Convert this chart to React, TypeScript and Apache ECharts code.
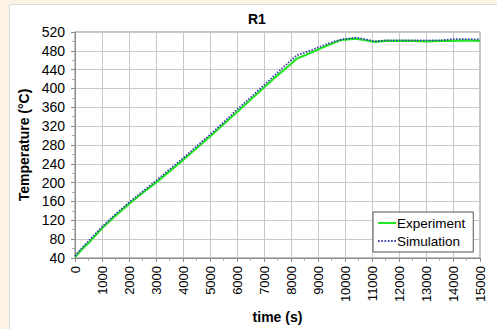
import React, { useEffect, useRef } from "react";
import * as echarts from "echarts";

const times = [0, 250, 500, 1000, 1500, 2000, 2500, 3000, 3500, 4000, 4500, 5000, 5500, 6000, 6500, 7000, 7500, 8000, 8200, 8500, 9000, 9500, 9800, 10000, 10400, 10800, 11100, 11500, 12000, 12500, 13000, 13500, 14000, 14500, 15000];
const experiment = [42, 58, 72, 103, 130, 155, 178, 200, 224, 248, 273, 298, 324, 350, 376, 402, 428, 452, 463, 470, 483, 495, 502, 504, 506, 502, 499, 501, 501, 501, 500, 501, 501, 502, 501];
const simulation = [44, 61, 76, 106, 133, 158, 181, 204, 228, 252, 277, 302, 328, 355, 381, 407, 434, 460, 470, 476, 487, 498, 503, 505, 508, 504, 500, 502, 502, 502, 502, 502, 505, 505, 504];
const seriesNames = ["Experiment", "Simulation"];
const titleText = "R1";
const xName = "time (s)";
const yName = "Temperature (°C)";

const FONT = "'Liberation Sans', Arial, sans-serif";
const GREEN = "#22e622";
const BLUE = "#3b3bb0";

export default function App() {
  const ref = useRef<HTMLDivElement>(null);
  useEffect(() => {
    if (!ref.current) return;
    const chart = echarts.init(ref.current, null, { renderer: "svg" });
    chart.setOption({
      animation: false,
      backgroundColor: "#fdf3e4",
      textStyle: { fontFamily: FONT },
      graphic: [
        {
          type: "rect",
          z: -10,
          silent: true,
          shape: { x: 9.5, y: 4.5, width: 500, height: 340 },
          style: { fill: "#ffffff", stroke: "#d8d8d8", lineWidth: 1 },
        },
      ],
      title: {
        text: titleText,
        left: 243,
        top: 7,
        textStyle: { fontFamily: FONT, fontSize: 14, fontWeight: "bold", color: "#000" },
      },
      grid: {
        left: 75,
        top: 32,
        right: 17,
        bottom: 64,
        show: true,
        borderColor: "#8c8c8c",
        borderWidth: 1,
        backgroundColor: "transparent",
      },
      legend: {
        orient: "vertical",
        left: 373,
        top: 212,
        backgroundColor: "#ffffff",
        borderColor: "#555",
        borderWidth: 1,
        borderRadius: 0,
        padding: [3, 8, 3, 5],
        itemGap: 2,
        itemWidth: 18,
        itemHeight: 2,
        textStyle: { fontFamily: FONT, fontSize: 13.5, color: "#000", padding: [0, 0, 0, -4], lineHeight: 16 },
        data: [
          { name: seriesNames[0], icon: "rect", itemStyle: { color: GREEN } },
          {
            name: seriesNames[1],
            icon: "path://M0,0h1.6v2h-1.6z M3.3,0h1.6v2h-1.6z M6.6,0h1.6v2h-1.6z M9.9,0h1.6v2h-1.6z M13.2,0h1.6v2h-1.6z M16.5,0h1.6v2h-1.6z",
            itemStyle: { color: BLUE },
          },
        ],
      },
      xAxis: {
        type: "value",
        min: 0,
        max: 15000,
        interval: 1000,
        name: xName,
        nameLocation: "middle",
        nameGap: 49,
        nameTextStyle: { fontFamily: FONT, fontSize: 14, fontWeight: "bold", color: "#000" },
        axisLine: { show: true, lineStyle: { color: "#8c8c8c", width: 1 } },
        axisTick: { show: true, length: 4, lineStyle: { color: "#8c8c8c" } },
        minorTick: { show: true, splitNumber: 2, length: 3, lineStyle: { color: "#aaa" } },
        axisLabel: {
          rotate: 90,
          fontFamily: FONT,
          fontSize: 13,
          color: "#000",
          margin: 8,
          formatter: (v: number) => String(v),
        },
        splitLine: { show: true, lineStyle: { color: "#c8c8c8", width: 1 } },
      },
      yAxis: {
        type: "value",
        min: 40,
        max: 520,
        interval: 40,
        name: yName,
        nameLocation: "middle",
        nameGap: 42,
        nameTextStyle: { fontFamily: FONT, fontSize: 14, fontWeight: "bold", color: "#000" },
        axisLine: { show: true, lineStyle: { color: "#8c8c8c", width: 1 } },
        axisTick: { show: true, length: 4, lineStyle: { color: "#8c8c8c" } },
        minorTick: { show: true, splitNumber: 2, length: 3, lineStyle: { color: "#aaa" } },
        axisLabel: { fontFamily: FONT, fontSize: 14, color: "#000", margin: 10 },
        splitLine: { show: true, lineStyle: { color: "#c8c8c8", width: 1 } },
      },
      series: [
        {
          name: seriesNames[0],
          type: "line",
          symbol: "none",
          smooth: false,
          data: times.map((t, i) => [t, experiment[i]]),
          lineStyle: { color: GREEN, width: 2.2, type: "solid" },
          itemStyle: { color: GREEN },
          z: 2,
        },
        {
          name: seriesNames[1],
          type: "line",
          symbol: "none",
          smooth: false,
          data: times.map((t, i) => [t, simulation[i]]),
          lineStyle: { color: BLUE, width: 1.8, type: [1.5, 1.5] },
          itemStyle: { color: BLUE },
          z: 3,
        },
      ],
    });
    return () => chart.dispose();
  }, []);
  return (
    <div
      ref={ref}
      style={{ position: "fixed", left: 0, top: 0, width: 497, height: 329 }}
    />
  );
}
